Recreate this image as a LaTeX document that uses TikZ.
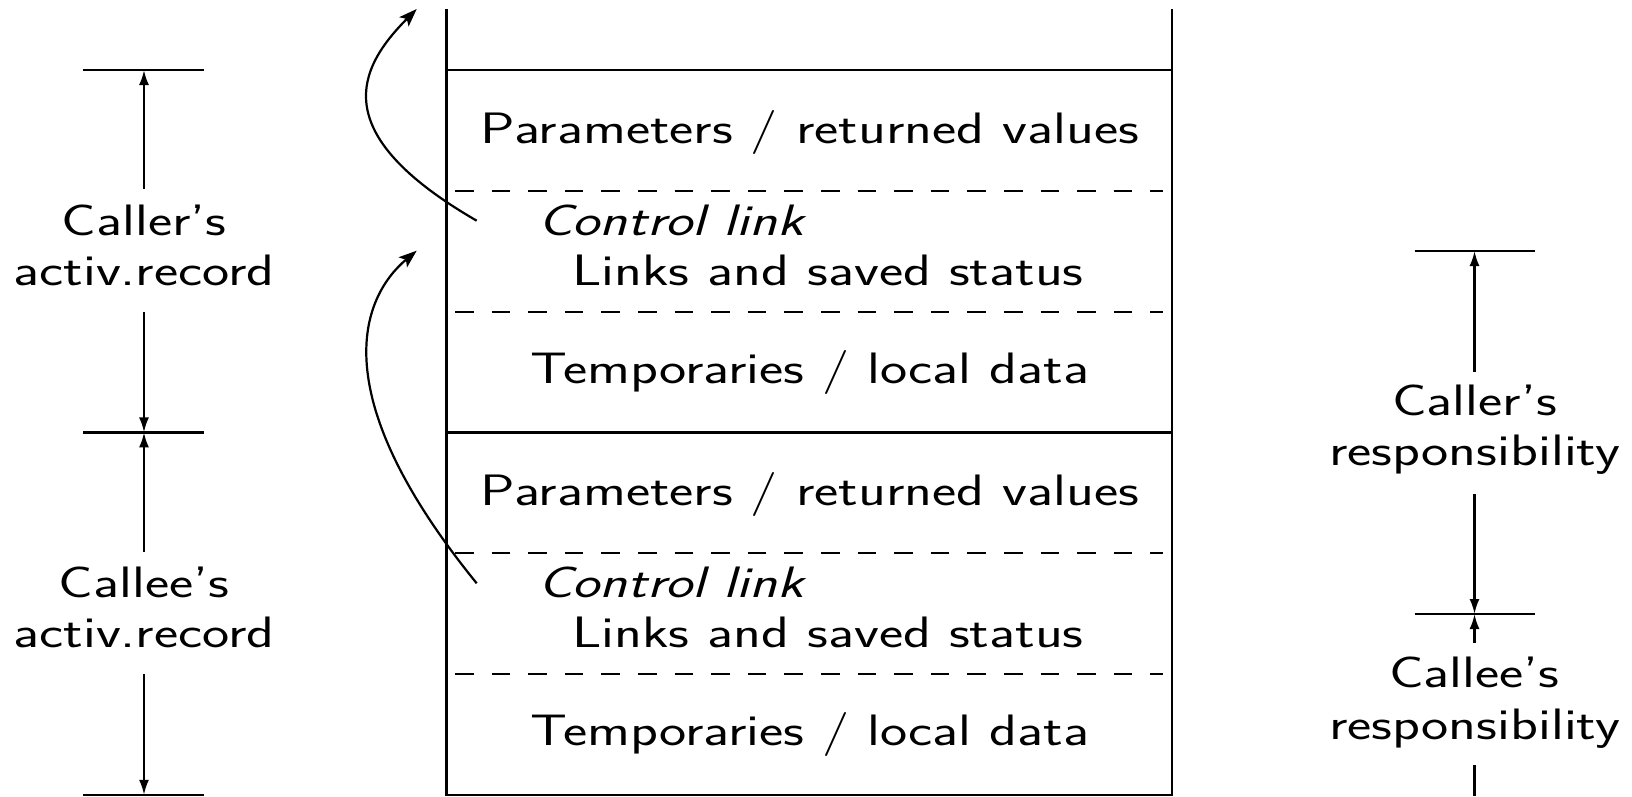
\documentclass[tikz,border=0pt]{standalone}
\usepackage{fontspec}
\setsansfont{Latin Modern Sans}[FakeStretch=1.31]
\usetikzlibrary{arrows.meta}

\begin{document}
\begin{tikzpicture}[x=1pt,y=-1pt,line width=2.2pt,
  sep/.style={dash pattern=on 18.6pt off 18pt},
  dim/.style={-{Latex[length=15pt,width=10pt]}},
  link/.style={-{Stealth[length=18pt,width=13pt,inset=4pt]}},
  txt/.style={font=\sffamily\fontsize{44}{50}\selectfont,inner sep=0pt,anchor=base},
  ctxt/.style={txt,font=\sffamily\fontsize{44}{50}\selectfont\itshape,anchor=base west}]
\useasboundingbox (0,0) rectangle (1632,796);

% stack walls and record boundaries
\draw (446.5,9.3) -- (446.5,796);
\draw (1172,9.3) -- (1172,796);
\foreach \y in {70,432.4,794.8} \draw (446.5,\y) -- (1172,\y);
\foreach \y in {190.8,311.6,553.2,674} \draw[sep] (455,\y) -- (1163,\y);

% frame contents
\foreach \k/\d in {a/0,b/362.4}{
  \node[txt] (par\k) at (810,143.3+\d) {Parameters / returned values};
  \node[ctxt] (ctl\k) at (537,235+\d) {Control link};
  \node[txt] (lnk\k) at (828,285+\d) {Links and saved status};
  \node[txt] (tmp\k) at (810,383.5+\d) {Temporaries / local data};
}

% control links
\coordinate (cl1s) at (476.7,220.7);
\coordinate (cl1e) at (416.7,9);
\coordinate (cl2s) at (476.7,583.3);
\coordinate (cl2e) at (416.7,250.7);
\draw[link] (cl1s) .. controls (325,133) and (358,68) .. (cl1e);
\draw[link] (cl2s) .. controls (318,388) and (365,294) .. (cl2e);

% activation record extents
\coordinate (lt1) at (144,70);
\coordinate (lt2) at (144,432.4);
\coordinate (lt3) at (144,794.8);
\foreach \c in {lt1,lt2,lt3} \draw ([xshift=-61pt]\c) -- ([xshift=60pt]\c);
\node[txt] (callerA) at (144,235) {Caller’s};
\node[txt] (callerB) at (144,285) {activ.record};
\node[txt] (calleeA) at (144,597.4) {Callee’s};
\node[txt] (calleeB) at (144,647.4) {activ.record};
\coordinate (la1) at (144,189);
\coordinate (la2) at (144,312);
\coordinate (la3) at (144,552);
\coordinate (la4) at (144,674);
\draw[dim] (la1) -- (lt1);
\draw[dim] (la2) -- (lt2);
\draw[dim] (la3) -- (lt2);
\draw[dim] (la4) -- (lt3);

% responsibilities
\coordinate (rt1) at (1474.5,251);
\coordinate (rt2) at (1474.5,614);
\foreach \c in {rt1,rt2} \draw ([xshift=-60pt]\c) -- ([xshift=60pt]\c);
\node[txt] (rerA) at (1474.5,415) {Caller’s};
\node[txt] (rerB) at (1474.5,465) {responsibility};
\node[txt] (reeA) at (1474.5,687.5) {Callee’s};
\node[txt] (reeB) at (1474.5,739.5) {responsibility};
\coordinate (ra1) at (1474.5,371.5);
\coordinate (ra2) at (1474.5,494);
\coordinate (ra3) at (1474.5,643);
\coordinate (ra4) at (1474.5,765);
\coordinate (ra5) at (1474.5,796);
\draw[dim] (ra1) -- (rt1);
\draw[dim] (ra2) -- (rt2);
\draw[dim] (ra3) -- (rt2);
\draw (ra4) -- (ra5);
\end{tikzpicture}
\end{document}
